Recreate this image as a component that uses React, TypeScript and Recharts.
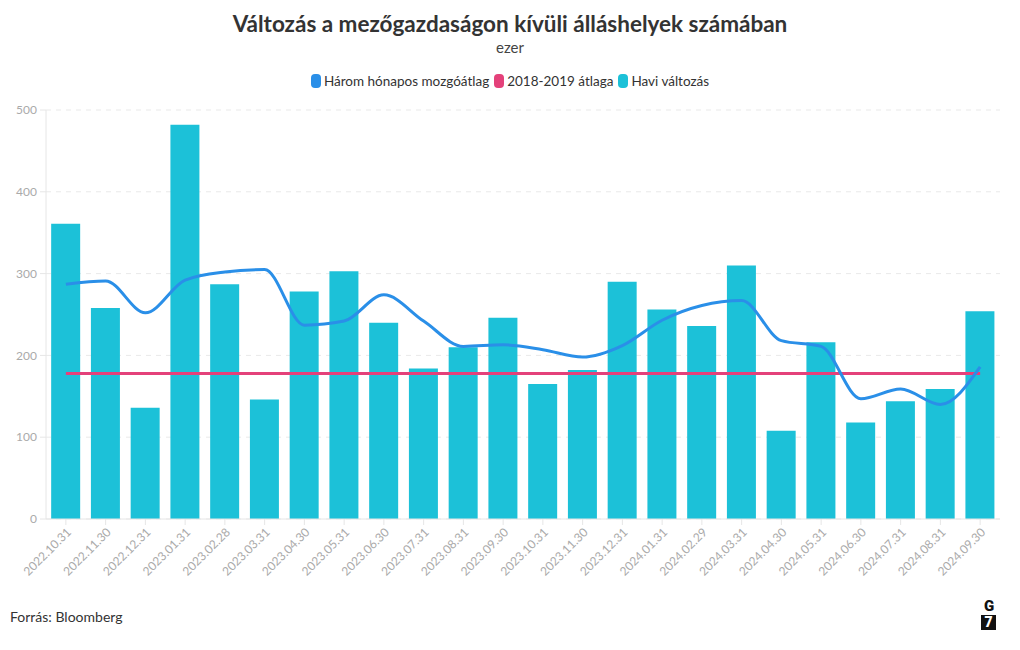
import React from 'react';
import { ComposedChart, Bar, Line, XAxis, YAxis, CartesianGrid } from 'recharts';

const categories = [
  '2022.10.31', '2022.11.30', '2022.12.31', '2023.01.31', '2023.02.28', '2023.03.31',
  '2023.04.30', '2023.05.31', '2023.06.30', '2023.07.31', '2023.08.31', '2023.09.30',
  '2023.10.31', '2023.11.30', '2023.12.31', '2024.01.31', '2024.02.29', '2024.03.31',
  '2024.04.30', '2024.05.31', '2024.06.30', '2024.07.31', '2024.08.31', '2024.09.30',
];
const monthlyChange = [361, 258, 136, 482, 287, 146, 278, 303, 240, 184, 210, 246, 165, 182, 290, 256, 236, 310, 108, 216, 118, 144, 159, 254];
const movingAverage = [287, 291, 252, 292, 302, 305, 237, 242, 274, 242, 211, 213, 207, 198, 212, 243, 261, 267, 218, 211, 147, 159, 140, 186];
const baseline = [178, 178, 178, 178, 178, 178, 178, 178, 178, 178, 178, 178, 178, 178, 178, 178, 178, 178, 178, 178, 178, 178, 178, 178];
const yTicks = [0, 100, 200, 300, 400, 500];

const legendItems = [
  { name: 'Három hónapos mozgóátlag', color: '#2a8fe8' },
  { name: '2018-2019 átlaga', color: '#e4417a' },
  { name: 'Havi változás', color: '#1cc1d8' },
];

const data = categories.map((c, i) => ({
  date: c,
  change: monthlyChange[i],
  avg: movingAverage[i],
  base: baseline[i],
}));

const FONT = 'Lato, "Noto Sans", sans-serif';

export default function App() {
  return (
    <div style={{ position: 'absolute', left: 0, top: 0, width: 1020, height: 650, background: '#fff', fontFamily: FONT }}>
      <div style={{ position: 'absolute', top: 9, left: 0, width: 1020, textAlign: 'center', fontSize: 22.5, fontWeight: 700, color: '#333', lineHeight: '30px' }}>
        Változás a mezőgazdaságon kívüli álláshelyek számában
      </div>
      <div style={{ position: 'absolute', top: 37, left: 0, width: 1020, textAlign: 'center', fontSize: 15, color: '#444', lineHeight: '20px' }}>
        ezer
      </div>
      <div style={{ position: 'absolute', top: 72, left: 0, width: 1020, display: 'flex', justifyContent: 'center', alignItems: 'center', fontSize: 13.5, color: '#333', lineHeight: '18px' }}>
        {legendItems.map((it) => (
          <div key={it.name} style={{ display: 'flex', alignItems: 'center', margin: '0 2.5px' }}>
            <div style={{ width: 10, height: 14, borderRadius: 4, background: it.color, marginRight: 3 }} />
            <span>{it.name}</span>
          </div>
        ))}
      </div>
      <div style={{ position: 'absolute', left: 0, top: 0 }}>
        <ComposedChart width={1020} height={650} data={data} margin={{ top: 110, right: 20, left: 0, bottom: 51 }} barCategoryGap="13%">
          <CartesianGrid vertical={false} stroke="#e9e9e9" strokeDasharray="5 5" />
          <XAxis
            dataKey="date"
            interval={0}
            height={80}
            angle={-45}
            textAnchor="end"
            tick={{ fill: '#aaa', fontSize: 12, fontFamily: FONT }}
            tickLine={{ stroke: '#e6e6e6' }}
            axisLine={{ stroke: '#e6e6e6' }}
            tickSize={6}
          />
          <YAxis
            width={46}
            domain={[0, 500]}
            ticks={yTicks}
            interval={0}
            tick={{ fill: '#aaa', fontSize: 12, fontFamily: FONT }}
            tickLine={{ stroke: '#e6e6e6' }}
            axisLine={{ stroke: '#e6e6e6' }}
            tickSize={6}
            tickMargin={3}
          />
          <Bar dataKey="change" fill="#1cc1d8" isAnimationActive={false} />
          <Line dataKey="base" type="linear" stroke="#e4417a" strokeWidth={3} dot={false} isAnimationActive={false} />
          <Line dataKey="avg" type="monotone" stroke="#2a8fe8" strokeWidth={3} dot={false} isAnimationActive={false} />
        </ComposedChart>
      </div>
      <div style={{ position: 'absolute', left: 10, top: 608, fontSize: 14, color: '#333', lineHeight: '18px' }}>
        Forrás: Bloomberg
      </div>
      <div style={{ position: 'absolute', left: 981, top: 598, width: 16, textAlign: 'center' }}>
        <div style={{ fontSize: 15, fontWeight: 900, color: '#111', lineHeight: '16px', fontFamily: 'Roboto, sans-serif' }}>G</div>
        <div style={{ width: 15, height: 15, background: '#111', color: '#fff', fontSize: 14, fontWeight: 900, lineHeight: '15px', textAlign: 'center', marginTop: 1, fontFamily: 'Roboto, sans-serif' }}>7</div>
      </div>
    </div>
  );
}
